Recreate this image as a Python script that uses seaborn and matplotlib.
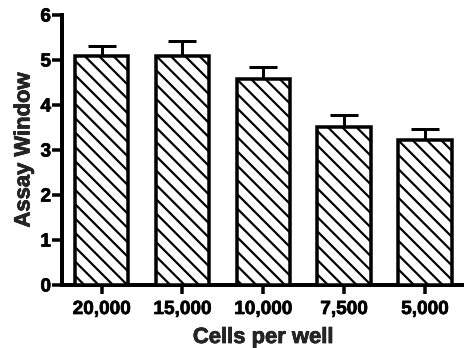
import matplotlib
matplotlib.use("Agg")
import matplotlib.pyplot as plt
import matplotlib.patheffects as pe
import seaborn as sns
import pandas as pd
import numpy as np

# Assay window by seeding density
cells = ["20,000", "15,000", "10,000", "7,500", "5,000"]
assay_window = [5.10, 5.10, 4.58, 3.51, 3.23]
sem = [0.21, 0.32, 0.26, 0.27, 0.24]

DPI = 86


def px(v):
    """Convert a size in pixels to points at the output resolution."""
    return v * 72.0 / DPI


sns.set_style("ticks")
plt.rcParams["font.family"] = ["Liberation Sans", "DejaVu Sans"]
plt.rcParams["font.weight"] = "bold"
plt.rcParams["hatch.linewidth"] = px(2.2)
plt.rcParams["hatch.color"] = "black"

df = pd.DataFrame({"cells": cells, "window": assay_window})

fig = plt.figure(figsize=(464 / DPI, 348 / DPI), dpi=DPI)
ax = fig.add_axes([62 / 464, 1 - 285 / 348, 1 - 62 / 464, 270 / 348])

sns.barplot(data=df, x="cells", y="window", order=cells, color="white",
            edgecolor="black", linewidth=px(3.5), width=0.66, errorbar=None,
            ax=ax, zorder=3)
for p in ax.patches:
    p.set_facecolor("white")
    p.set_hatch("\\\\")

x = np.arange(len(cells))
ax.errorbar(x, assay_window, yerr=[np.zeros(len(sem)), sem], fmt="none",
            ecolor="black", elinewidth=px(3), capsize=px(14), capthick=px(3),
            zorder=2)

ax.set_xlim(-0.49, 4.484)
ax.set_ylim(0, 6)
ax.set_yticks(range(0, 7))

for side in ("top", "right"):
    ax.spines[side].set_visible(False)
for side in ("left", "bottom"):
    ax.spines[side].set_linewidth(px(4))
    ax.spines[side].set_color("black")

ax.tick_params(axis="y", direction="out", length=px(10), width=px(3.5),
               pad=px(1), labelsize=px(19), colors="black")
ax.tick_params(axis="x", direction="out", length=px(9), width=px(3.5),
               pad=px(7), labelsize=px(19), colors="black")

heavy = [pe.withStroke(linewidth=px(0.7), foreground="black")]
for lab in ax.get_xticklabels() + ax.get_yticklabels():
    lab.set_fontweight("bold")
    lab.set_path_effects(heavy)

ax.set_xlabel("Cells per well", fontsize=px(22), fontweight="bold",
              labelpad=px(9), path_effects=heavy)
ax.set_ylabel("Assay Window", fontsize=px(22), fontweight="bold",
              labelpad=px(6), path_effects=heavy)

fig.savefig("out.png", dpi=DPI)
